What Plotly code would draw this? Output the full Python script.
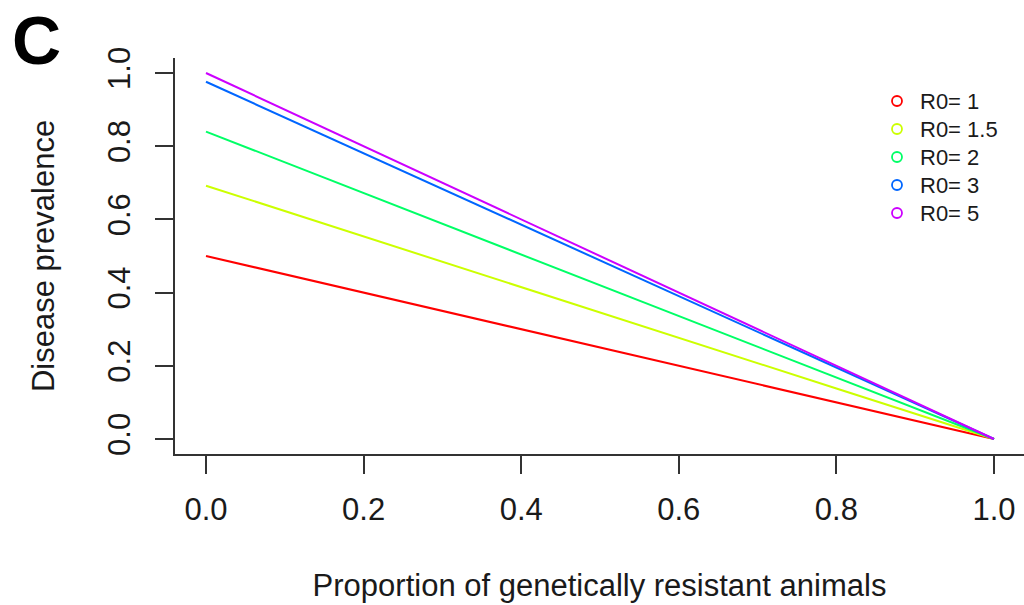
import plotly.graph_objects as go

# Proportion of genetically resistant animals
resistant = [0.0, 0.2, 0.4, 0.6, 0.8, 1.0]

# Disease prevalence for each basic reproduction number
r0_labels = ["R0= 1", "R0= 1.5", "R0= 2", "R0= 3", "R0= 5"]
prev_r0_1 = [0.50, 0.40, 0.30, 0.20, 0.10, 0.0]
prev_r0_15 = [0.692, 0.553, 0.415, 0.277, 0.138, 0.0]
prev_r0_2 = [0.84, 0.672, 0.504, 0.336, 0.168, 0.0]
prev_r0_3 = [0.976, 0.781, 0.586, 0.39, 0.195, 0.0]
prev_r0_5 = [1.0, 0.80, 0.60, 0.40, 0.20, 0.0]
series = [prev_r0_1, prev_r0_15, prev_r0_2, prev_r0_3, prev_r0_5]
colors = ["#FF0000", "#CCFF00", "#00FF66", "#0066FF", "#CC00FF"]

x_ticks = [0.0, 0.2, 0.4, 0.6, 0.8, 1.0]
x_ticklabels = ["0.0", "0.2", "0.4", "0.6", "0.8", "1.0"]
y_ticks = [0.0, 0.2, 0.4, 0.6, 0.8, 1.0]
y_ticklabels = ["0.0", "0.2", "0.4", "0.6", "0.8", "1.0"]

W, H = 1024, 605
ML, MR, MT, MB = 175, 0, 58, 151
PW, PH = W - ML - MR, H - MT - MB

FONT = "Liberation Sans, Arial, Helvetica, sans-serif"
TXT = "#1a1a1a"


def px_x(px):
    return (px - ML) / PW


def px_y(py):
    return (H - MB - py) / PH


fig = go.Figure()
for name, vals, col in zip(r0_labels, series, colors):
    fig.add_trace(go.Scatter(x=resistant, y=vals, mode="lines", name=name,
                             line=dict(color=col, width=2), showlegend=False))

# Legend drawn by hand: open circles plus labels, top right
shapes = []
annotations = []
leg_x = 897
leg_y0 = 101
leg_dy = 28
r = 5
for i, (name, col) in enumerate(zip(r0_labels, colors)):
    cy = leg_y0 + i * leg_dy
    shapes.append(dict(type="circle", xref="paper", yref="paper",
                       x0=px_x(leg_x - r), x1=px_x(leg_x + r),
                       y0=px_y(cy + r), y1=px_y(cy - r),
                       line=dict(color=col, width=1.8)))
    annotations.append(dict(text=name, xref="paper", yref="paper",
                            x=px_x(918), y=px_y(cy), xanchor="left", yanchor="middle",
                            showarrow=False, font=dict(family=FONT, size=22, color=TXT)))

# Panel letter
annotations.append(dict(text="<b>C</b>", xref="paper", yref="paper",
                        x=px_x(10), y=px_y(0), xanchor="left", yanchor="top",
                        showarrow=False, font=dict(family=FONT, size=68, color="black")))

axis_common = dict(showgrid=False, zeroline=False, showline=True, linecolor="#333333",
                   linewidth=2, ticks="outside", ticklen=18, tickwidth=2, tickcolor="#333333",
                   tickfont=dict(family=FONT, size=31, color=TXT),
                   mirror=False)

fig.update_layout(
    width=W, height=H,
    margin=dict(l=ML, r=MR, t=MT, b=MB, pad=0),
    paper_bgcolor="white", plot_bgcolor="white",
    xaxis=dict(range=[-31 / 788, (W - 206) / 788], tickvals=x_ticks, ticktext=x_ticklabels,
               title=dict(text="Proportion of genetically resistant animals",
                          font=dict(family=FONT, size=31, color=TXT), standoff=48),
               ticklabelstandoff=9, **axis_common),
    yaxis=dict(range=[-15 / 366, 1 + 15 / 366], tickvals=y_ticks, ticktext=y_ticklabels,
               tickangle=-90,
               title=dict(text="Disease prevalence",
                          font=dict(family=FONT, size=31, color=TXT), standoff=38),
               ticklabelstandoff=13, **axis_common),
    shapes=shapes,
    annotations=annotations,
    showlegend=False,
)

fig.write_html("out.html")
